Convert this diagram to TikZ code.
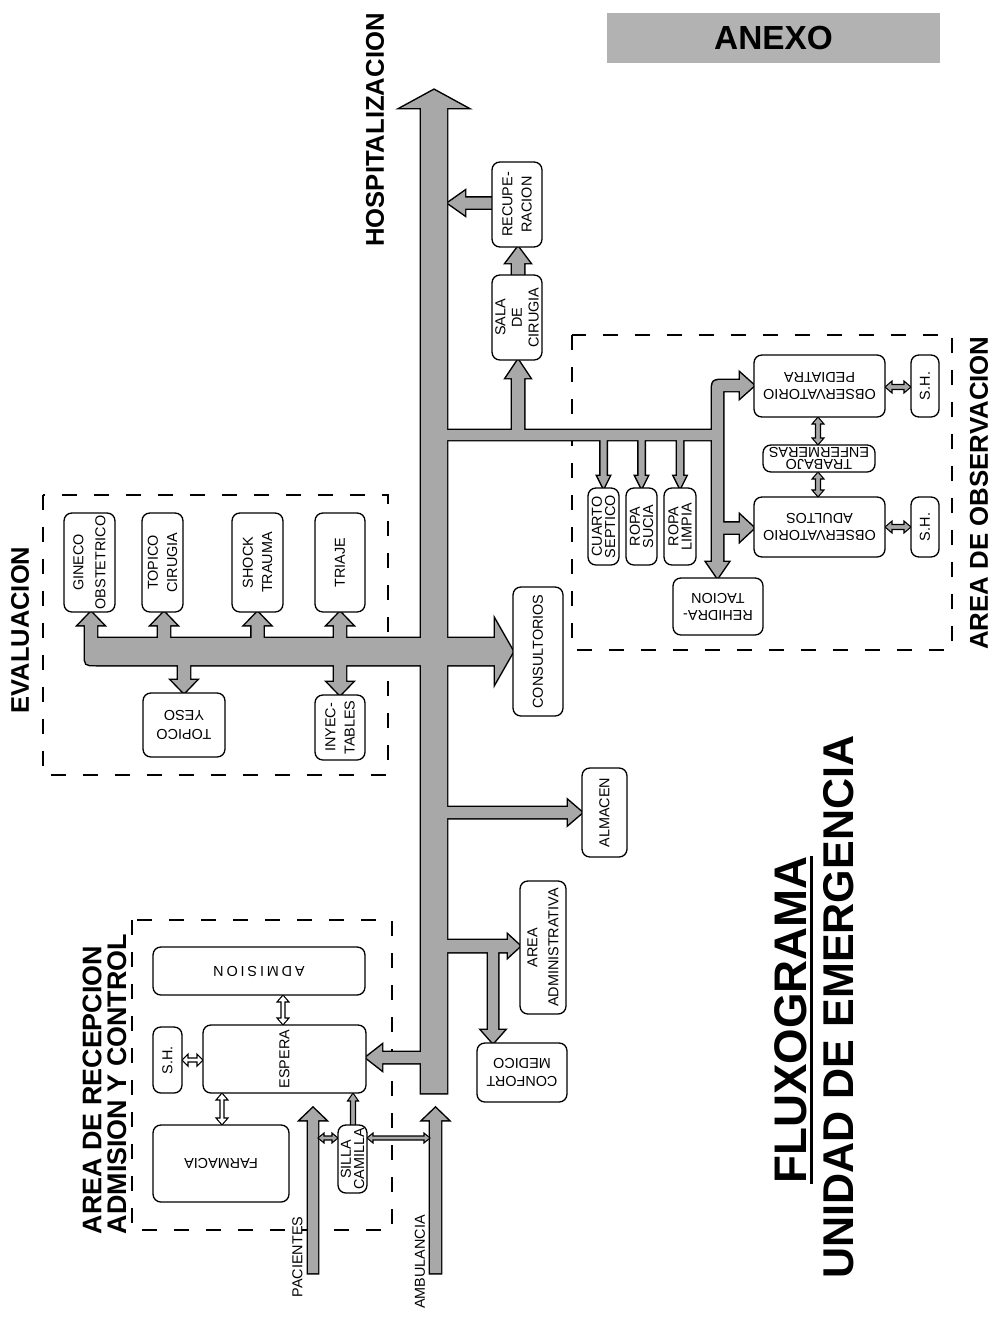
\documentclass[tikz,border=0pt]{standalone}
\usepackage{fontspec}
\setmainfont{Liberation Sans}
\usetikzlibrary{calc}
\definecolor{fillgray}{gray}{0.66}
\definecolor{anexogray}{gray}{0.70}
\newcommand\myboxfont{\fontsize{8.2}{11}\selectfont}
% single vertical arrow: style, x, ytail, ytip, shaft half, head half, head length
\newcommand\myVarrow[7]{%
  \pgfmathsetmacro\myArS{(#4>#3)*2-1}%
  \pgfmathsetmacro\myArB{#4-\myArS*#7}%
  \path[#1] (#2-#5,#3) -- (#2-#5,\myArB) -- (#2-#6,\myArB) -- (#2,#4) -- (#2+#6,\myArB) -- (#2+#5,\myArB) -- (#2+#5,#3) -- cycle;}
% double vertical arrow: style, x, y1, y2, shaft half, head half, head length
\newcommand\myVdarrow[7]{%
  \pgfmathsetmacro\myArS{(#4>#3)*2-1}%
  \pgfmathsetmacro\myArA{#3+\myArS*#7}%
  \pgfmathsetmacro\myArB{#4-\myArS*#7}%
  \path[#1] (#2,#3) -- (#2-#6,\myArA) -- (#2-#5,\myArA) -- (#2-#5,\myArB) -- (#2-#6,\myArB) -- (#2,#4) -- (#2+#6,\myArB) -- (#2+#5,\myArB) -- (#2+#5,\myArA) -- (#2+#6,\myArA) -- cycle;}
% double horizontal arrow: style, y, x1, x2, shaft half, head half, head length
\newcommand\myHdarrow[7]{%
  \pgfmathsetmacro\myArS{(#4>#3)*2-1}%
  \pgfmathsetmacro\myArA{#3+\myArS*#7}%
  \pgfmathsetmacro\myArB{#4-\myArS*#7}%
  \path[#1] (#3,#2) -- (\myArA,#2-#6) -- (\myArA,#2-#5) -- (\myArB,#2-#5) -- (\myArB,#2-#6) -- (#4,#2) -- (\myArB,#2+#6) -- (\myArB,#2+#5) -- (\myArA,#2+#5) -- (\myArA,#2+#6) -- cycle;}
% merged block-arrow network
\newcommand\mynetshapes[1]{%
  % spine to HOSPITALIZACION
  \path[#1] (421,1093) -- (421,108) -- (401,108) -- (434,90) -- (467,108) -- (447,108) -- (447,1093) -- cycle;
  % RECUPERACION -> spine
  \path[#1] (494,197.5) -- (465,197.5) -- (465,191) -- (448,203) -- (465,215) -- (465,208.5) -- (494,208.5) -- cycle;
  % SALA -> RECUPERACION
  \path[#1] (512,278) -- (512,263) -- (506,263) -- (518,247) -- (530,263) -- (524,263) -- (524,278) -- cycle;
  % observation branch
  \path[#1] (440,430) -- (512,430) -- (512,378) -- (506,378) -- (518,360) -- (530,378) -- (524,378) -- (524,430)
     -- (712,430) -- (712,394) .. controls (712,380) .. (726,380) -- (740,380) -- (740,373) -- (754,385.5) -- (740,398) -- (740,391)
     -- (723,391) -- (723,522.5) -- (740,522.5) -- (740,515) -- (754,528) -- (740,541) -- (740,533.5) -- (723,533.5)
     -- (723,562) -- (728.5,562) -- (717.5,578) -- (706.5,562) -- (712,562) -- (712,440)
     -- (683,440) -- (683,476) -- (686,476) -- (680,488) -- (674,476) -- (677,476) -- (677,440)
     -- (644.5,440) -- (644.5,476) -- (647.5,476) -- (641.5,488) -- (635.5,476) -- (638.5,476) -- (638.5,440)
     -- (606.5,440) -- (606.5,476) -- (609.5,476) -- (603.5,488) -- (597.5,476) -- (600.5,476) -- (600.5,440)
     -- (440,440) -- cycle;
  % evaluation bar
  \path[#1] (426,638) -- (346,638) -- (346,625) -- (352.5,625) -- (340,612) -- (327.5,625) -- (334,625) -- (334,638)
     -- (263.5,638) -- (263.5,625) -- (270,625) -- (257.5,612) -- (245,625) -- (251.5,625) -- (251.5,638)
     -- (170,638) -- (170,625) -- (176.5,625) -- (164,612) -- (151.5,625) -- (158,625) -- (158,638)
     -- (97,638) -- (97,625) -- (103.5,625) -- (91,612) -- (78.5,625) -- (85,625) -- (85,654) .. controls (85,665) .. (96,665)
     -- (178,665) -- (178,680) -- (171.5,680) -- (184,693) -- (196.5,680) -- (190,680) -- (190,665)
     -- (334,665) -- (334,682) -- (327.5,682) -- (340,695) -- (352.5,682) -- (346,682) -- (346,665)
     -- (426,665) -- cycle;
  % CONSULTORIOS
  \path[#1] (442,638) -- (495,638) -- (495,620) -- (513,651.5) -- (495,683) -- (495,665) -- (442,665) -- cycle;
  % ALMACEN
  \path[#1] (442,807) -- (568,807) -- (568,800.5) -- (582,812.5) -- (568,824.5) -- (568,818) -- (442,818) -- cycle;
  % AREA ADMINISTRATIVA + CONFORT MEDICO
  \path[#1] (442,940) -- (508,940) -- (508,935) -- (520,946) -- (508,957) -- (508,952) -- (498,952) -- (498,1030)
     -- (504.5,1030) -- (493,1043) -- (481.5,1030) -- (488,1030) -- (488,952) -- (442,952) -- cycle;
  % ESPERA
  \path[#1] (426,1052) -- (382,1052) -- (382,1045) -- (366,1057.5) -- (382,1070) -- (382,1063) -- (426,1063) -- cycle;
  % PACIENTES
  \path[#1] (308,1273) -- (308,1120) -- (300.5,1120) -- (313,1108) -- (325.5,1120) -- (318,1120) -- (318,1273) -- cycle;
  % AMBULANCIA
  \path[#1] (430,1273) -- (430,1120) -- (423,1120) -- (435.5,1108) -- (448,1120) -- (441,1120) -- (441,1273) -- cycle;
}
\begin{document}
\begin{tikzpicture}[x=0.02cm,y=-0.02cm,
  neto/.style={draw=black, fill=black, line width=1.7pt, line join=miter},
  neti/.style={fill=fillgray},
  smallar/.style={draw=black, line width=0.6pt, fill=fillgray, line join=miter},
  hollow/.style={draw=black, line width=0.6pt, fill=white, line join=miter},
  box/.style={draw, rounded corners=4.5pt, line width=0.75pt, inner sep=0pt, align=center, font=\myboxfont, fill=white},
  sz/.style 2 args={minimum width=#1*0.02cm, minimum height=#2*0.02cm},
  lead/.style={font=\fontsize{8.2}{#1}\selectfont},
  dashbox/.style={line width=0.65pt, dash pattern=on 0.3cm off 0.34cm},
  title/.style={font=\bfseries\fontsize{#1}{#1}\selectfont, inner sep=0pt},
  lbl/.style={font=\fontsize{8.2}{9}\selectfont, inner sep=0pt}]
\useasboundingbox (0,0) rectangle (996,1318);

% dashed areas (beneath the arrows)
\draw[dashbox] (43,495) rectangle (388,775);
\draw[dashbox] (572,335) rectangle (952,650);
\draw[dashbox] (132,920) rectangle (392,1230);

% network: outline pass then fill pass
\mynetshapes{neto}
\mynetshapes{neti}

% small arrows
\myVarrow{smallar}{353}{1126}{1093}{2.5}{5.5}{8}
\myHdarrow{smallar}{1138}{318}{338}{2}{5}{6}
\myHdarrow{smallar}{1138}{367}{430}{2}{5}{6}
\myVdarrow{hollow}{283}{995}{1025}{2}{6}{7}
\myVdarrow{hollow}{222}{1093}{1125}{2}{6}{7}
\myHdarrow{hollow}{1060}{182}{203}{2}{6}{6}
\myHdarrow{smallar}{387}{885}{911}{2.5}{6}{7}
\myHdarrow{smallar}{527}{885}{911}{2.5}{6}{7}
\myVdarrow{smallar}{818}{417}{445}{2.5}{6}{7}
\myVdarrow{smallar}{818}{472}{497}{2.5}{6}{7}

% boxes
\node[box, rotate=90, sz={85}{50}] (recup) at (517,204.5) {RECUPE-\\RACION};
\node[box, rotate=90, sz={85}{50}, lead=9.5] (sala) at (517,317.5) {SALA\\DE\\CIRUGIA};
\node[box, rotate=90, sz={129}{50}] (consult) at (538,651.5) {CONSULTORIOS};
\node[box, rotate=90, sz={89}{45}] (almacen) at (604.5,812.5) {ALMACEN};
\node[box, rotate=90, sz={133}{46}, lead=12] (admin) at (543,947.5) {AREA\\ADMINISTRATIVA};
\node[box, rotate=180, sz={90}{59}, lead=10] (confort) at (522,1072.5) {CONFORT\\MEDICO};
\node[box, rotate=90, sz={99}{51}, lead=12.5] (gineco) at (89.5,562.5) {GINECO\\OBSTETRICO};
\node[box, rotate=90, sz={99}{41}] (topcir) at (162.5,562.5) {TOPICO\\CIRUGIA};
\node[box, rotate=90, sz={99}{51}] (shock) at (257.5,562.5) {SHOCK\\TRAUMA};
\node[box, rotate=90, sz={99}{50}] (triaje) at (340,562.5) {TRIAJE};
\node[box, rotate=180, sz={82}{64}] (yeso) at (184,725) {TOPICO\\YESO};
\node[box, rotate=90, sz={65}{50}] (inyec) at (340,727.5) {INYEC-\\TABLES};
\node[box, rotate=90, sz={77}{31}, lead=7.5] (cuarto) at (603.5,526.5) {CUARTO\\SEPTICO};
\node[box, rotate=90, sz={77}{31}, lead=7.5] (rsucia) at (641.5,526.5) {ROPA\\SUCIA};
\node[box, rotate=90, sz={77}{32}, lead=7.5] (rlimpia) at (680,526.5) {ROPA\\LIMPIA};
\node[box, rotate=180, sz={90}{57}, lead=9.6] (rehidra) at (718,606.5) {REHIDRA-\\TACION};
\node[box, rotate=180, sz={131}{62}, lead=10] (obsped) at (819.5,386) {OBSERVATORIO\\PEDIATRA};
\node[box, rotate=180, sz={131}{60}, lead=10] (obsad) at (819.5,527) {OBSERVATORIO\\ADULTOS};
\node[box, rotate=180, sz={112}{27}, lead=7] (trabajo) at (819,458.5) {TRABAJO\\ENFERMERAS};
\node[box, rotate=90, sz={62}{28}] (sh1) at (925,386) {S.H.};
\node[box, rotate=90, sz={60}{28}] (sh2) at (925,527) {S.H.};
\node[box, rotate=180, sz={212}{48}] (admision) at (259,971) {\addfontfeature{LetterSpace=20}ADMISION};
\node[box, rotate=90, sz={68}{163}] (espera) at (284.5,1059) {ESPERA};
\node[box, rotate=90, sz={66}{29}] (shr) at (167.5,1060) {S.H.};
\node[box, rotate=180, sz={136}{77}] (farmacia) at (221,1163.5) {FARMACIA};
\node[box, rotate=90, sz={68}{29}, lead=7.5] (silla) at (352.5,1159) {SILLA\\CAMILLA};

% titles
\node[fill=anexogray, sz={333}{50}, inner sep=0pt, font=\bfseries\fontsize{19}{20}\selectfont] (anexo) at (773.5,38) {ANEXO};
\node[title=14.6, rotate=90] (hosp) at (375,130) {HOSPITALIZACION};
\node[title=14.5, rotate=90] (evaltitle) at (20,630) {EVALUACION};
\node[title=14.7, rotate=90] (obstitle) at (979,493) {AREA DE OBSERVACION};
\node[rotate=90, align=left, inner sep=0pt, font=\bfseries\fontsize{15.3}{14.2}\selectfont] (receptitle) at (104.5,1084) {AREA DE RECEPCION\\ADMISION Y CONTROL};
\node[title=26, rotate=90] (flux) at (791,1020) {FLUXOGRAMA};
\draw[line width=1.5pt] ([xshift=0.1cm]flux.base west) -- ([xshift=0.1cm]flux.base east);
\node[title=24.5, rotate=90] (unidad) at (839,1007) {UNIDAD DE EMERGENCIA};
\node[lbl, rotate=90] (pac) at (297.5,1257) {PACIENTES};
\node[lbl, rotate=90] (amb) at (420,1262) {AMBULANCIA};
\end{tikzpicture}
\end{document}
